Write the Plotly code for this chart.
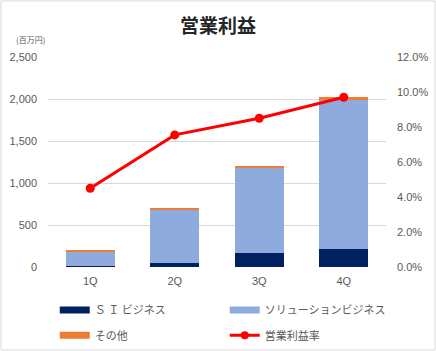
import plotly.graph_objects as go

quarters = ["1Q", "2Q", "3Q", "4Q"]
si_business = [12, 45, 170, 210]
solution_business = [178, 642, 1012, 1784]
other = [6, 10, 20, 30]
op_margin = [0.045, 0.0755, 0.085, 0.097]

left_ticks = [0, 500, 1000, 1500, 2000, 2500]
right_ticks = [0, 0.02, 0.04, 0.06, 0.08, 0.10, 0.12]

JP = "Noto Sans CJK JP"
tick_font = dict(family="Liberation Sans, " + JP, size=11, color="#595959")

names = ["Ｓ Ｉ ビジネス", "ソリューションビジネス", "その他"]
colors = ["#002060", "#8FAADC", "#ED7D31"]
series = [si_business, solution_business, other]

fig = go.Figure()
for nm, col, vals in zip(names, colors, series):
    fig.add_trace(go.Bar(x=quarters, y=vals, name=nm, showlegend=False,
                         marker=dict(color=col, line=dict(width=0)), width=0.58))
fig.add_trace(go.Scatter(x=quarters, y=op_margin, name="営業利益率", yaxis="y2",
                         mode="lines+markers", showlegend=False,
                         line=dict(color="#FF0000", width=3),
                         marker=dict(color="#FF0000", size=9)))

# legend proxies (wide rectangular swatches)
legend_ids = ["legend", "legend", "legend2"]
for nm, col, lg in zip(names, colors, legend_ids):
    fig.add_trace(go.Scatter(x=[None], y=[None], name=nm, mode="lines",
                             line=dict(color=col, width=7), legend=lg))
fig.add_trace(go.Scatter(x=[None], y=[None], name="営業利益率", mode="lines+markers",
                         line=dict(color="#FF0000", width=3),
                         marker=dict(color="#FF0000", size=8), legend="legend2"))

leg_common = dict(orientation="h", xanchor="left", yanchor="middle",
                  entrywidth=125, entrywidthmode="pixels", traceorder="normal",
                  font=dict(family=JP, size=11, color="#595959"),
                  itemwidth=30, bgcolor="rgba(0,0,0,0)")

fig.update_layout(
    width=436, height=351,
    barmode="stack",
    paper_bgcolor="white", plot_bgcolor="white",
    margin=dict(l=48, r=50, t=57, b=84, autoexpand=False),
    font=dict(family=JP, color="#595959", size=11),
    title=dict(text="<b>営業利益</b>", x=0.5, xanchor="center", y=0.925, yanchor="middle",
               font=dict(family=JP, size=19, color="#262626")),
    xaxis=dict(showgrid=False, showline=False, tickfont=tick_font, ticks="",
               ticklabelstandoff=6),
    yaxis=dict(range=[0, 2500], tickvals=left_ticks, tickformat=",d",
               showgrid=True, gridcolor="#D9D9D9", gridwidth=1, zeroline=False,
               showline=False, tickfont=tick_font, ticklabelstandoff=10),
    yaxis2=dict(range=[0, 0.12], tickvals=right_ticks, tickformat=".1%",
                overlaying="y", side="right", showgrid=False, zeroline=False,
                showline=False, tickfont=tick_font, ticklabelstandoff=10),
    showlegend=True,
    legend=dict(x=0.02, y=-0.205, **leg_common),
    legend2=dict(x=0.02, y=-0.325, **leg_common),
    shapes=[dict(type="rect", xref="paper", yref="paper",
                 x0=-0.139, x1=1.145, y0=-0.395, y1=1.267,
                 line=dict(color="#D9D9D9", width=1), fillcolor="rgba(0,0,0,0)")],
    annotations=[dict(text="(百万円)", xref="paper", yref="paper",
                      x=-0.1, y=1.082, xanchor="left", yanchor="middle",
                      showarrow=False, font=dict(family=JP, size=8, color="#595959"))],
)

fig.write_html("out.html")
